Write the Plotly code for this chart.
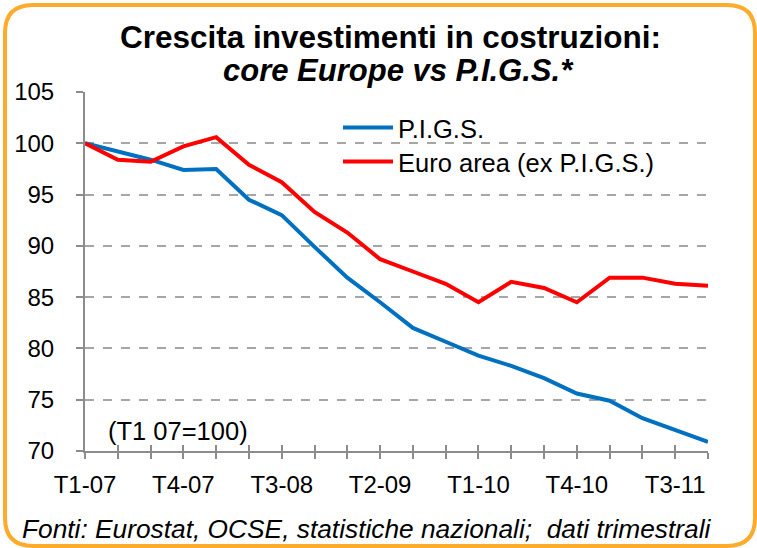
import plotly.graph_objects as go

quarters = [f"T{q}-{y:02d}" for y in range(7, 12) for q in range(1, 5)]
pigs = [100, 99.2, 98.4, 97.4, 97.5, 94.5, 93.0, 89.9, 86.9, 84.5,
        82.0, 80.65, 79.3, 78.3, 77.1, 75.6, 74.9, 73.2, 72.0, 70.9]
euro_ex = [100, 98.4, 98.2, 99.7, 100.6, 97.9, 96.2, 93.3, 91.3, 88.7,
           87.5, 86.3, 84.5, 86.5, 85.9, 84.5, 86.9, 86.9, 86.3, 86.1]
series_names = ["P.I.G.S.", "Euro area (ex P.I.G.S.)"]
y_ticks = [70, 75, 80, 85, 90, 95, 100, 105]

W, H = 757, 548
ML, MR, MT, MB = 85, 49, 92, 97
PW, PH = W - ML - MR, H - MT - MB
FONT = "Liberation Sans, Arial, sans-serif"
GREY = "#8C8C8C"

def px(x):
    return (x - ML) / PW

def py(y):
    return (H - MB - y) / PH

idx = list(range(len(quarters)))
ticktext = [q if i % 3 == 0 else "" for i, q in enumerate(quarters)]

fig = go.Figure()
fig.add_trace(go.Scatter(x=idx, y=pigs, mode="lines", name=series_names[0],
                         line=dict(color="#0070C0", width=4), legend="legend"))
fig.add_trace(go.Scatter(x=idx, y=euro_ex, mode="lines", name=series_names[1],
                         line=dict(color="#FF0000", width=4), legend="legend2"))
fig.add_trace(go.Scatter(x=[], y=[], xaxis="x2", showlegend=False))

# rounded border
x0, x1, y0, y1, r = 5, 755, 5, 546, 28
def P(x, y):
    return f"{px(x):.5f},{py(y):.5f}"
path = (f"M {P(x0 + r, y0)} L {P(x1 - r, y0)} Q {P(x1, y0)} {P(x1, y0 + r)} "
        f"L {P(x1, y1 - r)} Q {P(x1, y1)} {P(x1 - r, y1)} "
        f"L {P(x0 + r, y1)} Q {P(x0, y1)} {P(x0, y1 - r)} "
        f"L {P(x0, y0 + r)} Q {P(x0, y0)} {P(x0 + r, y0)} Z")

legend_style = dict(xanchor="left", yanchor="middle", bgcolor="rgba(0,0,0,0)",
                    font=dict(size=25.5), itemwidth=50)

fig.update_layout(
    width=W, height=H,
    margin=dict(l=ML, r=MR, t=MT, b=MB),
    paper_bgcolor="white", plot_bgcolor="white",
    font=dict(family=FONT, size=24, color="black"),
    showlegend=True,
    legend=dict(x=px(338), y=py(128), **legend_style),
    legend2=dict(x=px(338), y=py(162), **legend_style),
    xaxis=dict(range=[0, len(quarters) - 1], tickmode="array", tickvals=idx,
               ticktext=ticktext, ticks="outside", ticklen=6, tickwidth=2,
               tickcolor=GREY, showline=True, linecolor=GREY, linewidth=2,
               showgrid=False, zeroline=False, ticklabelstandoff=5,
               tickfont=dict(size=24)),
    xaxis2=dict(range=[0, len(quarters) - 1], overlaying="x", tickmode="array",
                tickvals=idx, ticktext=[""] * len(idx), ticks="inside", ticklen=6,
                tickwidth=2, tickcolor=GREY, showline=False, showgrid=False,
                zeroline=False, side="bottom", anchor="y"),
    yaxis=dict(range=[70, 105], tickmode="array", tickvals=y_ticks,
               ticks="outside", ticklen=7, tickwidth=2, tickcolor=GREY,
               showline=True, linecolor=GREY, linewidth=2, showgrid=True,
               gridcolor="#A6A6A6", griddash="dash", gridwidth=1.5,
               zeroline=False, ticklabelstandoff=17, tickfont=dict(size=24)),
    shapes=[dict(type="path", xref="paper", yref="paper", path=path,
                 line=dict(color="#FCAB2B", width=4), layer="above")],
    annotations=[
        dict(text="<b>Crescita investimenti in costruzioni:</b>", xref="paper",
             yref="paper", x=px(390), y=py(37), xanchor="center", yanchor="middle",
             showarrow=False, font=dict(size=31.5)),
        dict(text="<b><i>core Europe vs P.I.G.S.*</i></b>", xref="paper",
             yref="paper", x=px(398), y=py(70), xanchor="center", yanchor="middle",
             showarrow=False, font=dict(size=31)),
        dict(text="(T1 07=100)", xref="paper", yref="paper", x=px(106), y=py(431),
             xanchor="left", yanchor="middle", showarrow=False, font=dict(size=25.5)),
        dict(text="<i>Fonti: Eurostat, OCSE, statistiche nazionali;  dati trimestrali</i>",
             xref="paper", yref="paper", x=px(367), y=py(529), xanchor="center",
             yanchor="middle", showarrow=False, font=dict(size=26.3)),
    ],
)

fig.write_html("out.html", config={"displayModeBar": False},
               post_script="document.body.style.margin='0';document.body.style.padding='0';")
